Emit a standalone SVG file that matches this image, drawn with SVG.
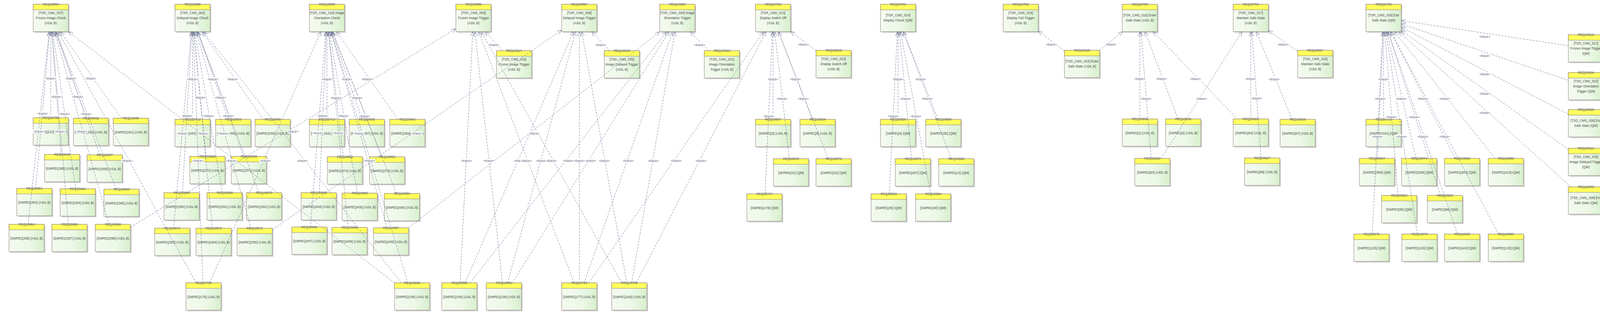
<svg xmlns="http://www.w3.org/2000/svg" width="4115" height="833" viewBox="0 0 4115 833">
<defs>
<linearGradient id="bg" x1="0" y1="0" x2="1" y2="0">
<stop offset="0" stop-color="#f3faef"/>
<stop offset="0.55" stop-color="#edf8e8"/>
<stop offset="1" stop-color="#d7f0cd"/>
</linearGradient>
<marker id="arr" viewBox="0 0 12 10" refX="12" refY="5" markerWidth="12" markerHeight="10" markerUnits="userSpaceOnUse" orient="auto">
<path d="M0,0 L12,5 L0,10" fill="none" stroke="#6b7391" stroke-width="0.9"/>
</marker>
<style>
.s{fill:#d2d2d2}
.b{fill:url(#bg);stroke:#927f7f;stroke-width:1}
.h{fill:#ffff5c;stroke:#927f7f;stroke-width:1}
text{font-family:"Liberation Sans",Arial,sans-serif;font-size:8.3px;text-anchor:middle}
.t{fill:#555}
.x{fill:#474747}
#connectors line{stroke:#6b7391;stroke-width:0.9;stroke-dasharray:5 3;fill:none;marker-end:url(#arr)}
.lb rect{fill:#fff}
.lb text{fill:#5d6278}
</style>
</defs>
<rect width="4115" height="833" fill="#fff"/>
<g id="nodes">
<g id="REQ10694" transform="translate(85,11)"><rect class="s" x="3" y="3" width="90" height="70"/><rect class="b" width="90" height="70"/><rect class="h" width="90" height="14"/><text class="t" x="45" y="3">REQ10694</text><text class="x" x="45" y="25">[TSR_CMS_007]</text><text class="x" x="45" y="38">Frozen Image Check</text><text class="x" x="45" y="51">(ASIL B)</text></g>
<g id="REQ10696" transform="translate(448,11)"><rect class="s" x="3" y="3" width="90" height="70"/><rect class="b" width="90" height="70"/><rect class="h" width="90" height="14"/><text class="t" x="45" y="3">REQ10696</text><text class="x" x="45" y="25">[TSR_CMS_002]</text><text class="x" x="45" y="38">Delayed Image Check</text><text class="x" x="45" y="51">(ASIL B)</text></g>
<g id="REQ10698" transform="translate(792,11)"><rect class="s" x="3" y="3" width="90" height="70"/><rect class="b" width="90" height="70"/><rect class="h" width="90" height="14"/><text class="t" x="45" y="3">REQ10698</text><text class="x" x="45" y="25">[TSR_CMS_019] Image</text><text class="x" x="45" y="38">Orientation Check</text><text class="x" x="45" y="51">(ASIL B)</text></g>
<g id="REQ10695" transform="translate(1167,11)"><rect class="s" x="3" y="3" width="90" height="70"/><rect class="b" width="90" height="70"/><rect class="h" width="90" height="14"/><text class="t" x="45" y="3">REQ10695</text><text class="x" x="45" y="25">[TSR_CMS_009]</text><text class="x" x="45" y="38">Frozen Image Trigger</text><text class="x" x="45" y="51">(ASIL B)</text></g>
<g id="REQ10697" transform="translate(1438,11)"><rect class="s" x="3" y="3" width="90" height="70"/><rect class="b" width="90" height="70"/><rect class="h" width="90" height="14"/><text class="t" x="45" y="3">REQ10697</text><text class="x" x="45" y="25">[TSR_CMS_008]</text><text class="x" x="45" y="38">Delayed Image Trigger</text><text class="x" x="45" y="51">(ASIL B)</text></g>
<g id="REQ10699" transform="translate(1689,11)"><rect class="s" x="3" y="3" width="90" height="70"/><rect class="b" width="90" height="70"/><rect class="h" width="90" height="14"/><text class="t" x="45" y="3">REQ10699</text><text class="x" x="45" y="25">[TSR_CMS_020] Image</text><text class="x" x="45" y="38">Orientation Trigger</text><text class="x" x="45" y="51">(ASIL B)</text></g>
<g id="REQ10700" transform="translate(1934,11)"><rect class="s" x="3" y="3" width="90" height="70"/><rect class="b" width="90" height="70"/><rect class="h" width="90" height="14"/><text class="t" x="45" y="3">REQ10700</text><text class="x" x="45" y="25">[TSR_CMS_013]</text><text class="x" x="45" y="38">Display Switch-Off</text><text class="x" x="45" y="51">(ASIL B)</text></g>
<g id="REQ10701" transform="translate(2254,11)"><rect class="s" x="3" y="3" width="90" height="70"/><rect class="b" width="90" height="70"/><rect class="h" width="90" height="14"/><text class="t" x="45" y="3">REQ10701</text><text class="x" x="45" y="31">[TSR_CMS_014]</text><text class="x" x="45" y="44">Display Check (QM)</text></g>
<g id="REQ10702" transform="translate(2568,11)"><rect class="s" x="3" y="3" width="90" height="70"/><rect class="b" width="90" height="70"/><rect class="h" width="90" height="14"/><text class="t" x="45" y="3">REQ10702</text><text class="x" x="45" y="25">[TSR_CMS_015]</text><text class="x" x="45" y="38">Display Fail Trigger</text><text class="x" x="45" y="51">(ASIL B)</text></g>
<g id="REQ10703" transform="translate(2873,11)"><rect class="s" x="3" y="3" width="90" height="70"/><rect class="b" width="90" height="70"/><rect class="h" width="90" height="14"/><text class="t" x="45" y="3">REQ10703</text><text class="x" x="45" y="31">[TSR_CMS_016] Enter</text><text class="x" x="45" y="44">Safe State (ASIL B)</text></g>
<g id="REQ10704" transform="translate(3157,11)"><rect class="s" x="3" y="3" width="90" height="70"/><rect class="b" width="90" height="70"/><rect class="h" width="90" height="14"/><text class="t" x="45" y="3">REQ10704</text><text class="x" x="45" y="25">[TSR_CMS_017]</text><text class="x" x="45" y="38">Maintain Safe State</text><text class="x" x="45" y="51">(ASIL B)</text></g>
<g id="REQ10705" transform="translate(3497,11)"><rect class="s" x="3" y="3" width="90" height="70"/><rect class="b" width="90" height="70"/><rect class="h" width="90" height="14"/><text class="t" x="45" y="3">REQ10705</text><text class="x" x="45" y="31">[TSR_CMS_018] Exit</text><text class="x" x="45" y="44">Safe State (QM)</text></g>

<g id="REQ10517" transform="translate(1271,130)"><rect class="s" x="3" y="3" width="90" height="70"/><rect class="b" width="90" height="70"/><rect class="h" width="90" height="14"/><text class="t" x="45" y="3">REQ10517</text><text class="x" x="45" y="25">[TSD_CMS_016]</text><text class="x" x="45" y="38">Frozen Image Trigger</text><text class="x" x="45" y="51">(ASIL B)</text></g>
<g id="REQ10518" transform="translate(1547,130)"><rect class="s" x="3" y="3" width="90" height="70"/><rect class="b" width="90" height="70"/><rect class="h" width="90" height="14"/><text class="t" x="45" y="3">REQ10518</text><text class="x" x="45" y="25">[TSD_CMS_035]</text><text class="x" x="45" y="38">Image Delayed Trigger</text><text class="x" x="45" y="51">(ASIL B)</text></g>
<g id="REQ10523" transform="translate(1803,130)"><rect class="s" x="3" y="3" width="90" height="70"/><rect class="b" width="90" height="70"/><rect class="h" width="90" height="14"/><text class="t" x="45" y="3">REQ10523</text><text class="x" x="45" y="25">[TSD_CMS_021]</text><text class="x" x="45" y="38">Image Orientation</text><text class="x" x="45" y="51">Trigger (ASIL B)</text></g>
<g id="REQ10525" transform="translate(2089,129)"><rect class="s" x="3" y="3" width="90" height="70"/><rect class="b" width="90" height="70"/><rect class="h" width="90" height="14"/><text class="t" x="45" y="3">REQ10525</text><text class="x" x="45" y="25">[TSD_CMS_023]</text><text class="x" x="45" y="38">Display Switch-Off</text><text class="x" x="45" y="51">(ASIL B)</text></g>
<g id="REQ10526" transform="translate(2725,129)"><rect class="s" x="3" y="3" width="90" height="70"/><rect class="b" width="90" height="70"/><rect class="h" width="90" height="14"/><text class="t" x="45" y="3">REQ10526</text><text class="x" x="45" y="31">[TSD_CMS_024] Enter</text><text class="x" x="45" y="44">Safe State (ASIL B)</text></g>
<g id="REQ10527" transform="translate(3322,129)"><rect class="s" x="3" y="3" width="90" height="70"/><rect class="b" width="90" height="70"/><rect class="h" width="90" height="14"/><text class="t" x="45" y="3">REQ10527</text><text class="x" x="45" y="25">[TSD_CMS_025]</text><text class="x" x="45" y="38">Maintain Safe State</text><text class="x" x="45" y="51">(ASIL B)</text></g>
<g id="REQ10516" transform="translate(4015,89)"><rect class="s" x="3" y="3" width="90" height="70"/><rect class="b" width="90" height="70"/><rect class="h" width="90" height="14"/><text class="t" x="45" y="3">REQ10516</text><text class="x" x="45" y="25">[TSD_CMS_017]</text><text class="x" x="45" y="38">Frozen Image Trigger</text><text class="x" x="45" y="51">(QM)</text></g>
<g id="REQ10524" transform="translate(4015,186)"><rect class="s" x="3" y="3" width="90" height="70"/><rect class="b" width="90" height="70"/><rect class="h" width="90" height="14"/><text class="t" x="45" y="3">REQ10524</text><text class="x" x="45" y="25">[TSD_CMS_022]</text><text class="x" x="45" y="38">Image Orientation</text><text class="x" x="45" y="51">Trigger (QM)</text></g>
<g id="REQ10528" transform="translate(4015,281)"><rect class="s" x="3" y="3" width="90" height="70"/><rect class="b" width="90" height="70"/><rect class="h" width="90" height="14"/><text class="t" x="45" y="3">REQ10528</text><text class="x" x="45" y="31">[TSD_CMS_026] Exit</text><text class="x" x="45" y="44">Safe State (QM)</text></g>
<g id="REQ10512" transform="translate(4015,380)"><rect class="s" x="3" y="3" width="90" height="70"/><rect class="b" width="90" height="70"/><rect class="h" width="90" height="14"/><text class="t" x="45" y="3">REQ10512</text><text class="x" x="45" y="25">[TSD_CMS_036]</text><text class="x" x="45" y="38">Image Delayed Trigger</text><text class="x" x="45" y="51">(QM)</text></g>
<g id="REQ10530" transform="translate(4015,479)"><rect class="s" x="3" y="3" width="90" height="70"/><rect class="b" width="90" height="70"/><rect class="h" width="90" height="14"/><text class="t" x="45" y="3">REQ10530</text><text class="x" x="45" y="31">[TSD_CMS_028] Exit</text><text class="x" x="45" y="44">Safe State (QM)</text></g>

<g id="REQ10789" transform="translate(85,302)"><rect class="s" x="3" y="3" width="90" height="70"/><rect class="b" width="90" height="70"/><rect class="h" width="90" height="14"/><text class="t" x="45" y="3">REQ10789</text><text class="x" x="45" y="39">[SWREQ212] (ASIL B)</text></g>
<g id="REQ10932" transform="translate(188,303)"><rect class="s" x="3" y="3" width="90" height="70"/><rect class="b" width="90" height="70"/><rect class="h" width="90" height="14"/><text class="t" x="45" y="3">REQ10932</text><text class="x" x="45" y="39">[SWREQ354] (ASIL B)</text></g>
<g id="REQ10939" transform="translate(290,303)"><rect class="s" x="3" y="3" width="90" height="70"/><rect class="b" width="90" height="70"/><rect class="h" width="90" height="14"/><text class="t" x="45" y="3">REQ10939</text><text class="x" x="45" y="39">[SWREQ361] (ASIL B)</text></g>
<g id="REQ10946" transform="translate(114,396)"><rect class="s" x="3" y="3" width="90" height="70"/><rect class="b" width="90" height="70"/><rect class="h" width="90" height="14"/><text class="t" x="45" y="3">REQ10946</text><text class="x" x="45" y="39">[SWREQ368] (ASIL B)</text></g>
<g id="REQ10947" transform="translate(223,397)"><rect class="s" x="3" y="3" width="90" height="70"/><rect class="b" width="90" height="70"/><rect class="h" width="90" height="14"/><text class="t" x="45" y="3">REQ10947</text><text class="x" x="45" y="39">[SWREQ369] (ASIL B)</text></g>
<g id="REQ10961" transform="translate(43,483)"><rect class="s" x="3" y="3" width="90" height="70"/><rect class="b" width="90" height="70"/><rect class="h" width="90" height="14"/><text class="t" x="45" y="3">REQ10961</text><text class="x" x="45" y="39">[SWREQ383] (ASIL B)</text></g>
<g id="REQ10962" transform="translate(154,484)"><rect class="s" x="3" y="3" width="90" height="70"/><rect class="b" width="90" height="70"/><rect class="h" width="90" height="14"/><text class="t" x="45" y="3">REQ10962</text><text class="x" x="45" y="39">[SWREQ384] (ASIL B)</text></g>
<g id="REQ10963" transform="translate(266,485)"><rect class="s" x="3" y="3" width="90" height="70"/><rect class="b" width="90" height="70"/><rect class="h" width="90" height="14"/><text class="t" x="45" y="3">REQ10963</text><text class="x" x="45" y="39">[SWREQ385] (ASIL B)</text></g>
<g id="REQ10964" transform="translate(23,575)"><rect class="s" x="3" y="3" width="90" height="70"/><rect class="b" width="90" height="70"/><rect class="h" width="90" height="14"/><text class="t" x="45" y="3">REQ10964</text><text class="x" x="45" y="39">[SWREQ386] (ASIL B)</text></g>
<g id="REQ10965" transform="translate(133,575)"><rect class="s" x="3" y="3" width="90" height="70"/><rect class="b" width="90" height="70"/><rect class="h" width="90" height="14"/><text class="t" x="45" y="3">REQ10965</text><text class="x" x="45" y="39">[SWREQ387] (ASIL B)</text></g>
<g id="REQ10966" transform="translate(244,575)"><rect class="s" x="3" y="3" width="90" height="70"/><rect class="b" width="90" height="70"/><rect class="h" width="90" height="14"/><text class="t" x="45" y="3">REQ10966</text><text class="x" x="45" y="39">[SWREQ388] (ASIL B)</text></g>

<g id="REQ10712" transform="translate(448,306)"><rect class="s" x="3" y="3" width="90" height="70"/><rect class="b" width="90" height="70"/><rect class="h" width="90" height="14"/><text class="t" x="45" y="3">REQ10712</text><text class="x" x="45" y="39">[SWREQ163] (ASIL B)</text></g>
<g id="REQ10933" transform="translate(552,306)"><rect class="s" x="3" y="3" width="90" height="70"/><rect class="b" width="90" height="70"/><rect class="h" width="90" height="14"/><text class="t" x="45" y="3">REQ10933</text><text class="x" x="45" y="39">[SWREQ355] (ASIL B)</text></g>
<g id="REQ10940" transform="translate(653,306)"><rect class="s" x="3" y="3" width="90" height="70"/><rect class="b" width="90" height="70"/><rect class="h" width="90" height="14"/><text class="t" x="45" y="3">REQ10940</text><text class="x" x="45" y="39">[SWREQ362] (ASIL B)</text></g>
<g id="REQ10948" transform="translate(486,401)"><rect class="s" x="3" y="3" width="90" height="70"/><rect class="b" width="90" height="70"/><rect class="h" width="90" height="14"/><text class="t" x="45" y="3">REQ10948</text><text class="x" x="45" y="39">[SWREQ370] (ASIL B)</text></g>
<g id="REQ10949" transform="translate(592,401)"><rect class="s" x="3" y="3" width="90" height="70"/><rect class="b" width="90" height="70"/><rect class="h" width="90" height="14"/><text class="t" x="45" y="3">REQ10949</text><text class="x" x="45" y="39">[SWREQ371] (ASIL B)</text></g>
<g id="REQ10968" transform="translate(420,494)"><rect class="s" x="3" y="3" width="90" height="70"/><rect class="b" width="90" height="70"/><rect class="h" width="90" height="14"/><text class="t" x="45" y="3">REQ10968</text><text class="x" x="45" y="39">[SWREQ390] (ASIL B)</text></g>
<g id="REQ10969" transform="translate(530,494)"><rect class="s" x="3" y="3" width="90" height="70"/><rect class="b" width="90" height="70"/><rect class="h" width="90" height="14"/><text class="t" x="45" y="3">REQ10969</text><text class="x" x="45" y="39">[SWREQ391] (ASIL B)</text></g>
<g id="REQ10970" transform="translate(631,494)"><rect class="s" x="3" y="3" width="90" height="70"/><rect class="b" width="90" height="70"/><rect class="h" width="90" height="14"/><text class="t" x="45" y="3">REQ10970</text><text class="x" x="45" y="39">[SWREQ392] (ASIL B)</text></g>
<g id="REQ10971" transform="translate(396,585)"><rect class="s" x="3" y="3" width="90" height="70"/><rect class="b" width="90" height="70"/><rect class="h" width="90" height="14"/><text class="t" x="45" y="3">REQ10971</text><text class="x" x="45" y="39">[SWREQ393] (ASIL B)</text></g>
<g id="REQ10972" transform="translate(502,585)"><rect class="s" x="3" y="3" width="90" height="70"/><rect class="b" width="90" height="70"/><rect class="h" width="90" height="14"/><text class="t" x="45" y="3">REQ10972</text><text class="x" x="45" y="39">[SWREQ394] (ASIL B)</text></g>
<g id="REQ10973" transform="translate(607,585)"><rect class="s" x="3" y="3" width="90" height="70"/><rect class="b" width="90" height="70"/><rect class="h" width="90" height="14"/><text class="t" x="45" y="3">REQ10973</text><text class="x" x="45" y="39">[SWREQ395] (ASIL B)</text></g>
<g id="REQ10725" transform="translate(476,725)"><rect class="s" x="3" y="3" width="90" height="70"/><rect class="b" width="90" height="70"/><rect class="h" width="90" height="14"/><text class="t" x="45" y="3">REQ10725</text><text class="x" x="45" y="39">[SWREQ176] (ASIL B)</text></g>

<g id="REQ10713" transform="translate(792,306)"><rect class="s" x="3" y="3" width="90" height="70"/><rect class="b" width="90" height="70"/><rect class="h" width="90" height="14"/><text class="t" x="45" y="3">REQ10713</text><text class="x" x="45" y="39">[SWREQ164] (ASIL B)</text></g>
<g id="REQ10935" transform="translate(894,306)"><rect class="s" x="3" y="3" width="90" height="70"/><rect class="b" width="90" height="70"/><rect class="h" width="90" height="14"/><text class="t" x="45" y="3">REQ10935</text><text class="x" x="45" y="39">[SWREQ357] (ASIL B)</text></g>
<g id="REQ10942" transform="translate(998,306)"><rect class="s" x="3" y="3" width="90" height="70"/><rect class="b" width="90" height="70"/><rect class="h" width="90" height="14"/><text class="t" x="45" y="3">REQ10942</text><text class="x" x="45" y="39">[SWREQ364] (ASIL B)</text></g>
<g id="REQ10952" transform="translate(838,402)"><rect class="s" x="3" y="3" width="90" height="70"/><rect class="b" width="90" height="70"/><rect class="h" width="90" height="14"/><text class="t" x="45" y="3">REQ10952</text><text class="x" x="45" y="39">[SWREQ374] (ASIL B)</text></g>
<g id="REQ10953" transform="translate(946,402)"><rect class="s" x="3" y="3" width="90" height="70"/><rect class="b" width="90" height="70"/><rect class="h" width="90" height="14"/><text class="t" x="45" y="3">REQ10953</text><text class="x" x="45" y="39">[SWREQ375] (ASIL B)</text></g>
<g id="REQ10982" transform="translate(771,494)"><rect class="s" x="3" y="3" width="90" height="70"/><rect class="b" width="90" height="70"/><rect class="h" width="90" height="14"/><text class="t" x="45" y="3">REQ10982</text><text class="x" x="45" y="39">[SWREQ404] (ASIL B)</text></g>
<g id="REQ10983" transform="translate(876,495)"><rect class="s" x="3" y="3" width="90" height="70"/><rect class="b" width="90" height="70"/><rect class="h" width="90" height="14"/><text class="t" x="45" y="3">REQ10983</text><text class="x" x="45" y="39">[SWREQ405] (ASIL B)</text></g>
<g id="REQ10984" transform="translate(984,496)"><rect class="s" x="3" y="3" width="90" height="70"/><rect class="b" width="90" height="70"/><rect class="h" width="90" height="14"/><text class="t" x="45" y="3">REQ10984</text><text class="x" x="45" y="39">[SWREQ406] (ASIL B)</text></g>
<g id="REQ10985" transform="translate(747,582)"><rect class="s" x="3" y="3" width="90" height="70"/><rect class="b" width="90" height="70"/><rect class="h" width="90" height="14"/><text class="t" x="45" y="3">REQ10985</text><text class="x" x="45" y="39">[SWREQ407] (ASIL B)</text></g>
<g id="REQ10986" transform="translate(850,583)"><rect class="s" x="3" y="3" width="90" height="70"/><rect class="b" width="90" height="70"/><rect class="h" width="90" height="14"/><text class="t" x="45" y="3">REQ10986</text><text class="x" x="45" y="39">[SWREQ408] (ASIL B)</text></g>
<g id="REQ10987" transform="translate(956,584)"><rect class="s" x="3" y="3" width="90" height="70"/><rect class="b" width="90" height="70"/><rect class="h" width="90" height="14"/><text class="t" x="45" y="3">REQ10987</text><text class="x" x="45" y="39">[SWREQ409] (ASIL B)</text></g>
<g id="REQ10658" transform="translate(1010,725)"><rect class="s" x="3" y="3" width="90" height="70"/><rect class="b" width="90" height="70"/><rect class="h" width="90" height="14"/><text class="t" x="45" y="3">REQ10658</text><text class="x" x="45" y="39">[SWREQ108] (ASIL B)</text></g>

<g id="REQ10656" transform="translate(1131,725)"><rect class="s" x="3" y="3" width="90" height="70"/><rect class="b" width="90" height="70"/><rect class="h" width="90" height="14"/><text class="t" x="45" y="3">REQ10656</text><text class="x" x="45" y="39">[SWREQ106] (ASIL B)</text></g>
<g id="REQ10659" transform="translate(1245,725)"><rect class="s" x="3" y="3" width="90" height="70"/><rect class="b" width="90" height="70"/><rect class="h" width="90" height="14"/><text class="t" x="45" y="3">REQ10659</text><text class="x" x="45" y="39">[SWREQ109] (ASIL B)</text></g>
<g id="REQ10726" transform="translate(1438,725)"><rect class="s" x="3" y="3" width="90" height="70"/><rect class="b" width="90" height="70"/><rect class="h" width="90" height="14"/><text class="t" x="45" y="3">REQ10726</text><text class="x" x="45" y="39">[SWREQ177] (ASIL B)</text></g>
<g id="REQ10709" transform="translate(1566,725)"><rect class="s" x="3" y="3" width="90" height="70"/><rect class="b" width="90" height="70"/><rect class="h" width="90" height="14"/><text class="t" x="45" y="3">REQ10709</text><text class="x" x="45" y="39">[SWREQ160] (ASIL B)</text></g>

<g id="REQ10637" transform="translate(1934,306)"><rect class="s" x="3" y="3" width="90" height="70"/><rect class="b" width="90" height="70"/><rect class="h" width="90" height="14"/><text class="t" x="45" y="3">REQ10637</text><text class="x" x="45" y="39">[SWREQ3] (ASIL B)</text></g>
<g id="REQ10554" transform="translate(2048,306)"><rect class="s" x="3" y="3" width="90" height="70"/><rect class="b" width="90" height="70"/><rect class="h" width="90" height="14"/><text class="t" x="45" y="3">REQ10554</text><text class="x" x="45" y="39">[SWREQ8] (ASIL B)</text></g>
<g id="REQ10579" transform="translate(1980,407)"><rect class="s" x="3" y="3" width="90" height="70"/><rect class="b" width="90" height="70"/><rect class="h" width="90" height="14"/><text class="t" x="45" y="3">REQ10579</text><text class="x" x="45" y="39">[SERWQ31] (QM)</text></g>
<g id="REQ10576" transform="translate(2089,407)"><rect class="s" x="3" y="3" width="90" height="70"/><rect class="b" width="90" height="70"/><rect class="h" width="90" height="14"/><text class="t" x="45" y="3">REQ10576</text><text class="x" x="45" y="39">[SWREQ32] (QM)</text></g>
<g id="REQ10727" transform="translate(1912,497)"><rect class="s" x="3" y="3" width="90" height="70"/><rect class="b" width="90" height="70"/><rect class="h" width="90" height="14"/><text class="t" x="45" y="3">REQ10727</text><text class="x" x="45" y="39">[SWREQ178] (QM)</text></g>

<g id="REQ10550" transform="translate(2254,306)"><rect class="s" x="3" y="3" width="90" height="70"/><rect class="b" width="90" height="70"/><rect class="h" width="90" height="14"/><text class="t" x="45" y="3">REQ10550</text><text class="x" x="45" y="39">[SWREQ4] (QM)</text></g>
<g id="REQ10580" transform="translate(2370,306)"><rect class="s" x="3" y="3" width="90" height="70"/><rect class="b" width="90" height="70"/><rect class="h" width="90" height="14"/><text class="t" x="45" y="3">REQ10580</text><text class="x" x="45" y="39">[SWREQ35] (QM)</text></g>
<g id="REQ10875" transform="translate(2292,407)"><rect class="s" x="3" y="3" width="90" height="70"/><rect class="b" width="90" height="70"/><rect class="h" width="90" height="14"/><text class="t" x="45" y="3">REQ10875</text><text class="x" x="45" y="39">[SWREQ297] (QM)</text></g>
<g id="REQ10559" transform="translate(2403,407)"><rect class="s" x="3" y="3" width="90" height="70"/><rect class="b" width="90" height="70"/><rect class="h" width="90" height="14"/><text class="t" x="45" y="3">REQ10559</text><text class="x" x="45" y="39">[SWREQ13] (QM)</text></g>
<g id="REQ10583" transform="translate(2230,497)"><rect class="s" x="3" y="3" width="90" height="70"/><rect class="b" width="90" height="70"/><rect class="h" width="90" height="14"/><text class="t" x="45" y="3">REQ10583</text><text class="x" x="45" y="39">[SWREQ39] (QM)</text></g>
<g id="REQ10584" transform="translate(2344,497)"><rect class="s" x="3" y="3" width="90" height="70"/><rect class="b" width="90" height="70"/><rect class="h" width="90" height="14"/><text class="t" x="45" y="3">REQ10584</text><text class="x" x="45" y="39">[SWREQ40] (QM)</text></g>

<g id="REQ10635" transform="translate(2873,305)"><rect class="s" x="3" y="3" width="90" height="70"/><rect class="b" width="90" height="70"/><rect class="h" width="90" height="14"/><text class="t" x="45" y="3">REQ10635</text><text class="x" x="45" y="39">[SWREQ1] (ASIL B)</text></g>
<g id="REQ10636" transform="translate(2984,305)"><rect class="s" x="3" y="3" width="90" height="70"/><rect class="b" width="90" height="70"/><rect class="h" width="90" height="14"/><text class="t" x="45" y="3">REQ10636</text><text class="x" x="45" y="39">[SWREQ2] (ASIL B)</text></g>
<g id="REQ10623" transform="translate(3157,305)"><rect class="s" x="3" y="3" width="90" height="70"/><rect class="b" width="90" height="70"/><rect class="h" width="90" height="14"/><text class="t" x="45" y="3">REQ10623</text><text class="x" x="45" y="39">[SWREQ94] (ASIL B)</text></g>
<g id="REQ10626" transform="translate(3277,306)"><rect class="s" x="3" y="3" width="90" height="70"/><rect class="b" width="90" height="70"/><rect class="h" width="90" height="14"/><text class="t" x="45" y="3">REQ10626</text><text class="x" x="45" y="39">[SWREQ97] (ASIL B)</text></g>
<g id="REQ10622" transform="translate(2905,406)"><rect class="s" x="3" y="3" width="90" height="70"/><rect class="b" width="90" height="70"/><rect class="h" width="90" height="14"/><text class="t" x="45" y="3">REQ10622</text><text class="x" x="45" y="39">[SWREQ93] (ASIL B)</text></g>
<g id="REQ10627" transform="translate(3186,405)"><rect class="s" x="3" y="3" width="90" height="70"/><rect class="b" width="90" height="70"/><rect class="h" width="90" height="14"/><text class="t" x="45" y="3">REQ10627</text><text class="x" x="45" y="39">[SWREQ98] (ASIL B)</text></g>

<g id="REQ10710" transform="translate(3497,306)"><rect class="s" x="3" y="3" width="90" height="70"/><rect class="b" width="90" height="70"/><rect class="h" width="90" height="14"/><text class="t" x="45" y="3">REQ10710</text><text class="x" x="45" y="39">[SWREQ161] (QM)</text></g>
<g id="REQ10967" transform="translate(3480,406)"><rect class="s" x="3" y="3" width="90" height="70"/><rect class="b" width="90" height="70"/><rect class="h" width="90" height="14"/><text class="t" x="45" y="3">REQ10967</text><text class="x" x="45" y="39">[SWREQ389] (QM)</text></g>
<g id="REQ10974" transform="translate(3588,406)"><rect class="s" x="3" y="3" width="90" height="70"/><rect class="b" width="90" height="70"/><rect class="h" width="90" height="14"/><text class="t" x="45" y="3">REQ10974</text><text class="x" x="45" y="39">[SWREQ396] (QM)</text></g>
<g id="REQ10981" transform="translate(3698,406)"><rect class="s" x="3" y="3" width="90" height="70"/><rect class="b" width="90" height="70"/><rect class="h" width="90" height="14"/><text class="t" x="45" y="3">REQ10981</text><text class="x" x="45" y="39">[SWREQ403] (QM)</text></g>
<g id="REQ10988" transform="translate(3810,406)"><rect class="s" x="3" y="3" width="90" height="70"/><rect class="b" width="90" height="70"/><rect class="h" width="90" height="14"/><text class="t" x="45" y="3">REQ10988</text><text class="x" x="45" y="39">[SWREQ410] (QM)</text></g>
<g id="REQ10624" transform="translate(3537,501)"><rect class="s" x="3" y="3" width="90" height="70"/><rect class="b" width="90" height="70"/><rect class="h" width="90" height="14"/><text class="t" x="45" y="3">REQ10624</text><text class="x" x="45" y="39">[SWREQ95] (QM)</text></g>
<g id="REQ10625" transform="translate(3654,501)"><rect class="s" x="3" y="3" width="90" height="70"/><rect class="b" width="90" height="70"/><rect class="h" width="90" height="14"/><text class="t" x="45" y="3">REQ10625</text><text class="x" x="45" y="39">[SWREQ96] (QM)</text></g>
<g id="REQ10675" transform="translate(3466,600)"><rect class="s" x="3" y="3" width="90" height="70"/><rect class="b" width="90" height="70"/><rect class="h" width="90" height="14"/><text class="t" x="45" y="3">REQ10675</text><text class="x" x="45" y="39">[SWREQ125] (QM)</text></g>
<g id="REQ10679" transform="translate(3589,600)"><rect class="s" x="3" y="3" width="90" height="70"/><rect class="b" width="90" height="70"/><rect class="h" width="90" height="14"/><text class="t" x="45" y="3">REQ10679</text><text class="x" x="45" y="39">[SWREQ129] (QM)</text></g>
<g id="REQ11003" transform="translate(3698,600)"><rect class="s" x="3" y="3" width="90" height="70"/><rect class="b" width="90" height="70"/><rect class="h" width="90" height="14"/><text class="t" x="45" y="3">REQ11003</text><text class="x" x="45" y="39">[SWREQ424] (QM)</text></g>
<g id="REQ10683" transform="translate(3810,600)"><rect class="s" x="3" y="3" width="90" height="70"/><rect class="b" width="90" height="70"/><rect class="h" width="90" height="14"/><text class="t" x="45" y="3">REQ10683</text><text class="x" x="45" y="39">[SWREQ133] (QM)</text></g>
</g>

<g id="connectors">
<line x1="130" y1="302" x2="130" y2="81"/>
<line x1="220.7" y1="303" x2="142.3" y2="81"/>
<line x1="310.4" y1="303" x2="154.6" y2="81"/>
<line x1="156.4" y1="396" x2="132.6" y2="81"/>
<line x1="255.5" y1="397" x2="142.5" y2="81"/>
<line x1="91.1" y1="483" x2="126.9" y2="81"/>
<line x1="193.9" y1="484" x2="135.1" y2="81"/>
<line x1="297.6" y1="485" x2="143.4" y2="81"/>
<line x1="71.8" y1="575" x2="126.2" y2="81"/>
<line x1="175" y1="575" x2="133" y2="81"/>
<line x1="279.1" y1="575" x2="139.9" y2="81"/>
<line x1="501.8" y1="725" x2="149.2" y2="81"/>
<line x1="1010" y1="725.3" x2="175" y2="80.7"/>
<line x1="493" y1="306" x2="493" y2="81"/>
<line x1="584.7" y1="306" x2="505.3" y2="81"/>
<line x1="673.7" y1="306" x2="517.3" y2="81"/>
<line x1="527.6" y1="401" x2="496.4" y2="81"/>
<line x1="624.1" y1="401" x2="505.9" y2="81"/>
<line x1="467" y1="494" x2="491" y2="81"/>
<line x1="569.1" y1="494" x2="498.9" y2="81"/>
<line x1="662.7" y1="494" x2="506.3" y2="81"/>
<line x1="444.2" y1="585" x2="489.8" y2="81"/>
<line x1="543.7" y1="585" x2="496.3" y2="81"/>
<line x1="642.3" y1="585" x2="502.7" y2="81"/>
<line x1="519.6" y1="725" x2="494.4" y2="81"/>
<line x1="1027.5" y1="725" x2="520.5" y2="81"/>
<line x1="837" y1="306" x2="837" y2="81"/>
<line x1="926.9" y1="306" x2="849.1" y2="81"/>
<line x1="1018.6" y1="306" x2="861.4" y2="81"/>
<line x1="878.9" y1="402" x2="841.1" y2="81"/>
<line x1="977.2" y1="402" x2="850.8" y2="81"/>
<line x1="817.5" y1="494" x2="835.5" y2="81"/>
<line x1="914.9" y1="495" x2="843.1" y2="81"/>
<line x1="1015.1" y1="496" x2="850.9" y2="81"/>
<line x1="794.8" y1="582" x2="834.2" y2="81"/>
<line x1="891.5" y1="583" x2="840.5" y2="81"/>
<line x1="991" y1="584" x2="847" y2="81"/>
<line x1="536.5" y1="725" x2="821.5" y2="81"/>
<line x1="1044.3" y1="725" x2="847.7" y2="81"/>
<line x1="334" y1="582.5" x2="1167" y2="73.5"/>
<line x1="697" y1="588.9" x2="1438" y2="77.1"/>
<line x1="1045.8" y1="584" x2="1689.2" y2="81"/>
<line x1="1177.8" y1="725" x2="1210.2" y2="81"/>
<line x1="1191" y1="725" x2="1468" y2="81"/>
<line x1="1203.3" y1="725" x2="1706.7" y2="81"/>
<line x1="1286.2" y1="725" x2="1215.8" y2="81"/>
<line x1="1299.5" y1="725" x2="1473.5" y2="81"/>
<line x1="1311.8" y1="725" x2="1712.2" y2="81"/>
<line x1="1469.7" y1="725" x2="1225.3" y2="81"/>
<line x1="1483" y1="725" x2="1483" y2="81"/>
<line x1="1495.3" y1="725" x2="1721.7" y2="81"/>
<line x1="1507.3" y1="725" x2="1954.7" y2="81"/>
<line x1="1591.4" y1="725" x2="1231.6" y2="81"/>
<line x1="1604.7" y1="725" x2="1489.3" y2="81"/>
<line x1="1617" y1="725" x2="1728" y2="81"/>
<line x1="1629" y1="725" x2="1961" y2="81"/>
<line x1="1285.4" y1="130" x2="1242.6" y2="81"/>
<line x1="1559.9" y1="130" x2="1515.1" y2="81"/>
<line x1="1814.5" y1="130" x2="1767.5" y2="81"/>
<line x1="2089" y1="129.7" x2="2024" y2="80.3"/>
<line x1="2725" y1="130.2" x2="2658" y2="79.8"/>
<line x1="2813.9" y1="129" x2="2874.1" y2="81"/>
<line x1="3322" y1="131.8" x2="3247" y2="78.2"/>
<line x1="1979" y1="306" x2="1979" y2="81"/>
<line x1="2079.5" y1="306" x2="1992.5" y2="81"/>
<line x1="2020.9" y1="407" x2="1983.1" y2="81"/>
<line x1="2120.3" y1="407" x2="1992.7" y2="81"/>
<line x1="1958.6" y1="497" x2="1977.4" y2="81"/>
<line x1="2299" y1="306" x2="2299" y2="81"/>
<line x1="2401.2" y1="306" x2="2312.8" y2="81"/>
<line x1="2333.6" y1="407" x2="2302.4" y2="81"/>
<line x1="2434.8" y1="407" x2="2312.2" y2="81"/>
<line x1="2276.7" y1="497" x2="2297.3" y2="81"/>
<line x1="2382.5" y1="497" x2="2305.5" y2="81"/>
<line x1="2918" y1="305" x2="2918" y2="81"/>
<line x1="3015.8" y1="305" x2="2931.2" y2="81"/>
<line x1="2947.2" y1="406" x2="2920.8" y2="81"/>
<line x1="3168.2" y1="305" x2="2951.8" y2="81"/>
<line x1="3202" y1="305" x2="3202" y2="81"/>
<line x1="2972.3" y1="406" x2="3179.7" y2="81"/>
<line x1="3228.4" y1="405" x2="3204.6" y2="81"/>
<line x1="3307.8" y1="306" x2="3216.2" y2="81"/>
<line x1="3542" y1="306" x2="3542" y2="81"/>
<line x1="3526.5" y1="406" x2="3540.5" y2="81"/>
<line x1="3624.9" y1="406" x2="3550.1" y2="81"/>
<line x1="3725.2" y1="406" x2="3559.8" y2="81"/>
<line x1="3827.3" y1="406" x2="3569.7" y2="81"/>
<line x1="3579.1" y1="501" x2="3544.9" y2="81"/>
<line x1="3687.8" y1="501" x2="3553.2" y2="81"/>
<line x1="3512.8" y1="600" x2="3540.2" y2="81"/>
<line x1="3628.5" y1="600" x2="3547.5" y2="81"/>
<line x1="3731.1" y1="600" x2="3553.9" y2="81"/>
<line x1="3836.4" y1="600" x2="3560.6" y2="81"/>
<line x1="4015" y1="117.2" x2="3587" y2="52.8"/>
<line x1="4015" y1="205.8" x2="3587" y2="61.2"/>
<line x1="4015" y1="292.5" x2="3587" y2="69.5"/>
<line x1="4015" y1="382.9" x2="3587" y2="78.1"/>
<line x1="4021.3" y1="479" x2="3580.7" y2="81"/>

<g id="labels">
<g class="lb"><rect x="115" y="196" width="30" height="9"/><text x="130" y="203.5">«trace»</text></g>
<g class="lb"><rect x="166.5" y="196.5" width="30" height="9"/><text x="181.5" y="204">«trace»</text></g>
<g class="lb"><rect x="217.5" y="196.5" width="30" height="9"/><text x="232.5" y="204">«trace»</text></g>
<g class="lb"><rect x="129.5" y="243" width="30" height="9"/><text x="144.5" y="250.5">«trace»</text></g>
<g class="lb"><rect x="184" y="243.5" width="30" height="9"/><text x="199" y="251">«trace»</text></g>
<g class="lb"><rect x="94" y="286.5" width="30" height="9"/><text x="109" y="294">«trace»</text></g>
<g class="lb"><rect x="149.5" y="287" width="30" height="9"/><text x="164.5" y="294.5">«trace»</text></g>
<g class="lb"><rect x="205.5" y="287.5" width="30" height="9"/><text x="220.5" y="295">«trace»</text></g>
<g class="lb"><rect x="84" y="332.5" width="30" height="9"/><text x="99" y="340">«trace»</text></g>
<g class="lb"><rect x="139" y="332.5" width="30" height="9"/><text x="154" y="340">«trace»</text></g>
<g class="lb"><rect x="194.5" y="332.5" width="30" height="9"/><text x="209.5" y="340">«trace»</text></g>
<g class="lb"><rect x="310.5" y="407.5" width="30" height="9"/><text x="325.5" y="415">«trace»</text></g>
<g class="lb"><rect x="577.5" y="407.5" width="30" height="9"/><text x="592.5" y="415">«trace»</text></g>
<g class="lb"><rect x="478" y="198" width="30" height="9"/><text x="493" y="205.5">«trace»</text></g>
<g class="lb"><rect x="530" y="198" width="30" height="9"/><text x="545" y="205.5">«trace»</text></g>
<g class="lb"><rect x="580.5" y="198" width="30" height="9"/><text x="595.5" y="205.5">«trace»</text></g>
<g class="lb"><rect x="497" y="245.5" width="30" height="9"/><text x="512" y="253">«trace»</text></g>
<g class="lb"><rect x="550" y="245.5" width="30" height="9"/><text x="565" y="253">«trace»</text></g>
<g class="lb"><rect x="464" y="292" width="30" height="9"/><text x="479" y="299.5">«trace»</text></g>
<g class="lb"><rect x="519" y="292" width="30" height="9"/><text x="534" y="299.5">«trace»</text></g>
<g class="lb"><rect x="569.5" y="292" width="30" height="9"/><text x="584.5" y="299.5">«trace»</text></g>
<g class="lb"><rect x="452" y="337.5" width="30" height="9"/><text x="467" y="345">«trace»</text></g>
<g class="lb"><rect x="505" y="337.5" width="30" height="9"/><text x="520" y="345">«trace»</text></g>
<g class="lb"><rect x="557.5" y="337.5" width="30" height="9"/><text x="572.5" y="345">«trace»</text></g>
<g class="lb"><rect x="492" y="407.5" width="30" height="9"/><text x="507" y="415">«trace»</text></g>
<g class="lb"><rect x="759" y="407.5" width="30" height="9"/><text x="774" y="415">«trace»</text></g>
<g class="lb"><rect x="822" y="198" width="30" height="9"/><text x="837" y="205.5">«trace»</text></g>
<g class="lb"><rect x="873" y="198" width="30" height="9"/><text x="888" y="205.5">«trace»</text></g>
<g class="lb"><rect x="925" y="198" width="30" height="9"/><text x="940" y="205.5">«trace»</text></g>
<g class="lb"><rect x="845" y="246" width="30" height="9"/><text x="860" y="253.5">«trace»</text></g>
<g class="lb"><rect x="899" y="246" width="30" height="9"/><text x="914" y="253.5">«trace»</text></g>
<g class="lb"><rect x="811.5" y="292" width="30" height="9"/><text x="826.5" y="299.5">«trace»</text></g>
<g class="lb"><rect x="864" y="292.5" width="30" height="9"/><text x="879" y="300">«trace»</text></g>
<g class="lb"><rect x="918" y="293" width="30" height="9"/><text x="933" y="300.5">«trace»</text></g>
<g class="lb"><rect x="799.5" y="336" width="30" height="9"/><text x="814.5" y="343.5">«trace»</text></g>
<g class="lb"><rect x="851" y="336.5" width="30" height="9"/><text x="866" y="344">«trace»</text></g>
<g class="lb"><rect x="904" y="337" width="30" height="9"/><text x="919" y="344.5">«trace»</text></g>
<g class="lb"><rect x="664" y="407.5" width="30" height="9"/><text x="679" y="415">«trace»</text></g>
<g class="lb"><rect x="931" y="407.5" width="30" height="9"/><text x="946" y="415">«trace»</text></g>
<g class="lb"><rect x="735.5" y="332.5" width="30" height="9"/><text x="750.5" y="340">«trace»</text></g>
<g class="lb"><rect x="1052.5" y="337.5" width="30" height="9"/><text x="1067.5" y="345">«trace»</text></g>
<g class="lb"><rect x="1352.5" y="337" width="30" height="9"/><text x="1367.5" y="344.5">«trace»</text></g>
<g class="lb"><rect x="1179" y="407.5" width="30" height="9"/><text x="1194" y="415">«trace»</text></g>
<g class="lb"><rect x="1314.5" y="407.5" width="30" height="9"/><text x="1329.5" y="415">«trace»</text></g>
<g class="lb"><rect x="1440" y="407.5" width="30" height="9"/><text x="1455" y="415">«trace»</text></g>
<g class="lb"><rect x="1236" y="407.5" width="30" height="9"/><text x="1251" y="415">«trace»</text></g>
<g class="lb"><rect x="1371.5" y="407.5" width="30" height="9"/><text x="1386.5" y="415">«trace»</text></g>
<g class="lb"><rect x="1497" y="407.5" width="30" height="9"/><text x="1512" y="415">«trace»</text></g>
<g class="lb"><rect x="1332.5" y="407.5" width="30" height="9"/><text x="1347.5" y="415">«trace»</text></g>
<g class="lb"><rect x="1468" y="407.5" width="30" height="9"/><text x="1483" y="415">«trace»</text></g>
<g class="lb"><rect x="1593.5" y="407.5" width="30" height="9"/><text x="1608.5" y="415">«trace»</text></g>
<g class="lb"><rect x="1716" y="407.5" width="30" height="9"/><text x="1731" y="415">«trace»</text></g>
<g class="lb"><rect x="1396.5" y="407.5" width="30" height="9"/><text x="1411.5" y="415">«trace»</text></g>
<g class="lb"><rect x="1532" y="407.5" width="30" height="9"/><text x="1547" y="415">«trace»</text></g>
<g class="lb"><rect x="1657.5" y="407.5" width="30" height="9"/><text x="1672.5" y="415">«trace»</text></g>
<g class="lb"><rect x="1780" y="407.5" width="30" height="9"/><text x="1795" y="415">«trace»</text></g>
<g class="lb"><rect x="1249" y="110" width="30" height="9"/><text x="1264" y="117.5">«trace»</text></g>
<g class="lb"><rect x="1522.5" y="110" width="30" height="9"/><text x="1537.5" y="117.5">«trace»</text></g>
<g class="lb"><rect x="1776" y="110" width="30" height="9"/><text x="1791" y="117.5">«trace»</text></g>
<g class="lb"><rect x="2041.5" y="109.5" width="30" height="9"/><text x="2056.5" y="117">«trace»</text></g>
<g class="lb"><rect x="2676.5" y="109.5" width="30" height="9"/><text x="2691.5" y="117">«trace»</text></g>
<g class="lb"><rect x="2829" y="109.5" width="30" height="9"/><text x="2844" y="117">«trace»</text></g>
<g class="lb"><rect x="3269.5" y="109.5" width="30" height="9"/><text x="3284.5" y="117">«trace»</text></g>
<g class="lb"><rect x="1964" y="198" width="30" height="9"/><text x="1979" y="205.5">«trace»</text></g>
<g class="lb"><rect x="2021" y="198" width="30" height="9"/><text x="2036" y="205.5">«trace»</text></g>
<g class="lb"><rect x="1987" y="248.5" width="30" height="9"/><text x="2002" y="256">«trace»</text></g>
<g class="lb"><rect x="2041.5" y="248.5" width="30" height="9"/><text x="2056.5" y="256">«trace»</text></g>
<g class="lb"><rect x="1953" y="293.5" width="30" height="9"/><text x="1968" y="301">«trace»</text></g>
<g class="lb"><rect x="2284" y="198" width="30" height="9"/><text x="2299" y="205.5">«trace»</text></g>
<g class="lb"><rect x="2342" y="198" width="30" height="9"/><text x="2357" y="205.5">«trace»</text></g>
<g class="lb"><rect x="2303" y="248.5" width="30" height="9"/><text x="2318" y="256">«trace»</text></g>
<g class="lb"><rect x="2358.5" y="248.5" width="30" height="9"/><text x="2373.5" y="256">«trace»</text></g>
<g class="lb"><rect x="2272" y="293.5" width="30" height="9"/><text x="2287" y="301">«trace»</text></g>
<g class="lb"><rect x="2329" y="293.5" width="30" height="9"/><text x="2344" y="301">«trace»</text></g>
<g class="lb"><rect x="2903" y="197.5" width="30" height="9"/><text x="2918" y="205">«trace»</text></g>
<g class="lb"><rect x="2958.5" y="197.5" width="30" height="9"/><text x="2973.5" y="205">«trace»</text></g>
<g class="lb"><rect x="2919" y="248" width="30" height="9"/><text x="2934" y="255.5">«trace»</text></g>
<g class="lb"><rect x="3045" y="197.5" width="30" height="9"/><text x="3060" y="205">«trace»</text></g>
<g class="lb"><rect x="3187" y="197.5" width="30" height="9"/><text x="3202" y="205">«trace»</text></g>
<g class="lb"><rect x="3061" y="248" width="30" height="9"/><text x="3076" y="255.5">«trace»</text></g>
<g class="lb"><rect x="3201.5" y="247.5" width="30" height="9"/><text x="3216.5" y="255">«trace»</text></g>
<g class="lb"><rect x="3247" y="198" width="30" height="9"/><text x="3262" y="205.5">«trace»</text></g>
<g class="lb"><rect x="3527" y="198" width="30" height="9"/><text x="3542" y="205.5">«trace»</text></g>
<g class="lb"><rect x="3518.5" y="248" width="30" height="9"/><text x="3533.5" y="255.5">«trace»</text></g>
<g class="lb"><rect x="3572.5" y="248" width="30" height="9"/><text x="3587.5" y="255.5">«trace»</text></g>
<g class="lb"><rect x="3627.5" y="248" width="30" height="9"/><text x="3642.5" y="255.5">«trace»</text></g>
<g class="lb"><rect x="3683.5" y="248" width="30" height="9"/><text x="3698.5" y="255.5">«trace»</text></g>
<g class="lb"><rect x="3547" y="295.5" width="30" height="9"/><text x="3562" y="303">«trace»</text></g>
<g class="lb"><rect x="3605.5" y="295.5" width="30" height="9"/><text x="3620.5" y="303">«trace»</text></g>
<g class="lb"><rect x="3511.5" y="345" width="30" height="9"/><text x="3526.5" y="352.5">«trace»</text></g>
<g class="lb"><rect x="3573" y="345" width="30" height="9"/><text x="3588" y="352.5">«trace»</text></g>
<g class="lb"><rect x="3627.5" y="345" width="30" height="9"/><text x="3642.5" y="352.5">«trace»</text></g>
<g class="lb"><rect x="3683.5" y="345" width="30" height="9"/><text x="3698.5" y="352.5">«trace»</text></g>
<g class="lb"><rect x="3786" y="89.5" width="30" height="9"/><text x="3801" y="97">«trace»</text></g>
<g class="lb"><rect x="3786" y="138" width="30" height="9"/><text x="3801" y="145.5">«trace»</text></g>
<g class="lb"><rect x="3786" y="185.5" width="30" height="9"/><text x="3801" y="193">«trace»</text></g>
<g class="lb"><rect x="3786" y="235" width="30" height="9"/><text x="3801" y="242.5">«trace»</text></g>
<g class="lb"><rect x="3786" y="284.5" width="30" height="9"/><text x="3801" y="292">«trace»</text></g>
</g>
</g>
</svg>
